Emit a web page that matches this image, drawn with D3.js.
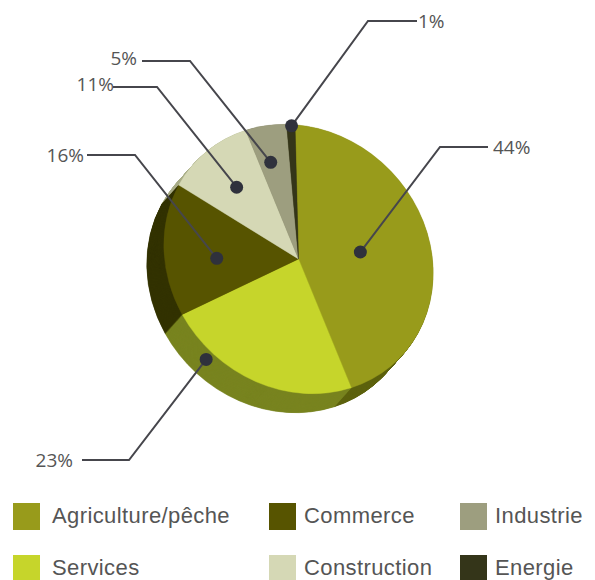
<!DOCTYPE html>
<html>
<head>
<meta charset="utf-8">
<script src="https://cdn.jsdelivr.net/npm/d3@7"></script>
<style>
  html, body { margin: 0; padding: 0; background: #ffffff; }
  svg { display: block; }
</style>
</head>
<body>
<div id="chart"></div>
<script>
// ---- data ----
const categories = ["Agriculture/pêche", "Services", "Commerce", "Construction", "Industrie", "Energie"];
const values = [44, 23, 16, 11, 5, 1];
const labels = ["44%", "23%", "16%", "11%", "5%", "1%"];
const topColors = ["#989b1b", "#c6d52b", "#575400", "#d5d8b5", "#9d9e7f", "#343519"];
const sideColors = ["#5d620f", "#78841f", "#333200", "#a9ad88", "#6f7055", "#1f2008"];

// ---- layout (annotation placement) ----
// dot: [fraction along slice, radius fraction]
const dotLayout = [[0.5, 0.47], [0.76, 1.07], [0.43, 0.61], [0.49, 0.67], [0.37, 0.73], [0.58, 0.99]];
// leader: [elbowX, elbowY, lineEndX, textX, textBaseline, anchor]
const leaderLayout = [
  [440, 147, 488, 493, 154, "start"],
  [129, 460, 82, 73, 467, "end"],
  [135, 155, 87, 84, 162, "end"],
  [157, 87, 113, 114, 91, "end"],
  [190, 61, 142, 137, 65, "end"],
  [368, 21, 417, 418, 28, "start"]
];

const W = 595, H = 580;
const cx = 298.5, cy = 259, R = 134.5;
const sx = 1.052, sy = 0.948, rot = 45;
const depthX = -17, depthY = 19, layers = 40;
const startAngle = -43.5 * Math.PI / 180;

const svg = d3.select("#chart").append("svg").attr("width", W).attr("height", H);

const pie = d3.pie().sort(null).value(d => d)
  .startAngle(startAngle).endAngle(startAngle + 2 * Math.PI);
const arcs = pie(values);
const arc = d3.arc().innerRadius(0).outerRadius(R);

// side (extrusion): stacked copies from bottom to top
const sideG = svg.append("g");
for (let t = layers; t >= 1; t--) {
  const ox = cx + depthX * t / layers, oy = cy + depthY * t / layers;
  sideG.append("g")
    .attr("transform", `translate(${ox},${oy}) rotate(${rot}) scale(${sx},${sy})`)
    .selectAll("path").data(arcs).join("path")
    .attr("d", arc)
    .attr("fill", (d, i) => sideColors[i])
    .attr("stroke", (d, i) => sideColors[i])
    .attr("stroke-width", 0.6);
}

// top face
svg.append("g")
  .attr("transform", `translate(${cx},${cy}) rotate(${rot}) scale(${sx},${sy})`)
  .selectAll("path").data(arcs).join("path")
  .attr("d", arc)
  .attr("fill", (d, i) => topColors[i])
  .attr("stroke", (d, i) => topColors[i])
  .attr("stroke-width", 0.4);

// projection of local pie coords to screen
function project(x, y) {
  const xs = x * sx, ys = y * sy;
  const a = rot * Math.PI / 180;
  return [cx + xs * Math.cos(a) - ys * Math.sin(a), cy + xs * Math.sin(a) + ys * Math.cos(a)];
}

// leader lines, dots and labels
const annG = svg.append("g");
arcs.forEach((d, i) => {
  const [f, rf] = dotLayout[i];
  const ang = d.startAngle + f * (d.endAngle - d.startAngle);
  const r = rf * R;
  const [px, py] = project(r * Math.sin(ang), -r * Math.cos(ang));
  const [ex, ey, lx, tx, ty, anchor] = leaderLayout[i];
  annG.append("path")
    .attr("d", d3.line()([[px, py], [ex, ey], [lx, ey]]))
    .attr("fill", "none")
    .attr("stroke", "#46464c")
    .attr("stroke-width", 2);
  annG.append("circle")
    .attr("cx", px).attr("cy", py).attr("r", 6.5)
    .attr("fill", "#2f313c");
  annG.append("text")
    .attr("x", tx).attr("y", ty)
    .attr("text-anchor", anchor)
    .attr("font-family", "'Open Sans', sans-serif")
    .attr("font-size", 19)
    .attr("fill", "#555555")
    .text(labels[i]);
});

// legend: 3 columns x 2 rows (column-major)
const legCols = [13, 269, 460];
const legRows = [503, 555];
const legG = svg.append("g");
categories.forEach((c, i) => {
  const col = Math.floor(i / 2), row = i % 2;
  const x = legCols[col], y = legRows[row];
  legG.append("rect")
    .attr("x", x).attr("y", y).attr("width", 27).attr("height", 27)
    .attr("fill", topColors[i]);
  legG.append("text")
    .attr("x", x + (col === 0 ? 39 : 35)).attr("y", y + 20)
    .attr("font-family", "'Liberation Sans', Arial, sans-serif")
    .attr("font-size", 22)
    .attr("letter-spacing", 0.4)
    .attr("fill", "#555555")
    .text(c);
});
</script>
</body>
</html>
